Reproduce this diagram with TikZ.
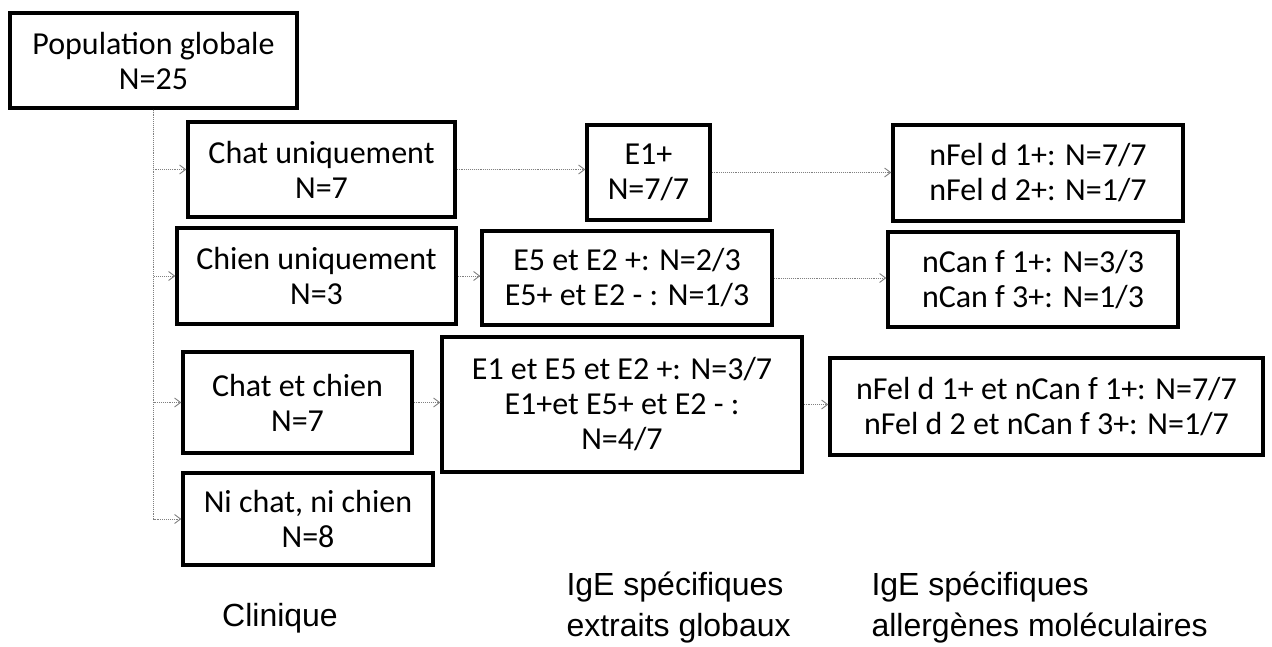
\documentclass[tikz,border=0pt]{standalone}
\usepackage{fontspec}
\setmainfont{Carlito}
\newfontfamily\labelfont{Liberation Sans}
\usetikzlibrary{arrows.meta,positioning}

\begin{document}
\begin{tikzpicture}[x=1pt, y=-1pt,
  every node/.style={align=center, font=\fontsize{32}{35}\selectfont},
  box/.style={draw, line width=3.4pt, inner sep=0pt},
  link/.style={draw=gray, densely dotted, line width=0.9pt, -{Straight Barb[length=6pt,width=9pt]}},
  caption/.style={align=left, font=\labelfont\fontsize{32}{41}\selectfont}]
  \useasboundingbox (0,0) rectangle (1272,646);
  % clinique
  \node[box, minimum width=287pt, minimum height=95pt] (pop) at (153.5,60.5) {Population globale\\N=25};
  \node[box, minimum width=267pt, minimum height=95pt] (chat) at (321.5,169.5) {Chat uniquement\\N=7};
  \node[box, minimum width=279pt, minimum height=96pt] (chien) at (316.5,276) {Chien uniquement\\N=3};
  \node[box, minimum width=229pt, minimum height=101pt] (chatchien) at (297.5,402.5) {Chat et chien\\N=7};
  \node[box, minimum width=250pt, minimum height=92pt] (ni) at (308,519) {Ni chat, ni chien\\N=8};
  % extraits globaux
  \node[box, minimum width=123pt, minimum height=95pt] (e1) at (648.5,172.5) {E1+\\N=7/7};
  \node[box, minimum width=290pt, minimum height=94pt] (e5) at (627,278) {E5 et E2 +: N=2/3\\E5+ et E2 - : N=1/3};
  \node[box, minimum width=360pt, minimum height=135pt] (e1e5) at (622,404.5) {E1 et E5 et E2 +: N=3/7\\E1+et E5+ et E2 - :\\N=4/7};
  % allergenes moleculaires
  \node[box, minimum width=290pt, minimum height=96pt] (fel) at (1038,173) {nFel d 1+: N=7/7\\nFel d 2+: N=1/7};
  \node[box, minimum width=290pt, minimum height=95pt] (can) at (1033,279.5) {nCan f 1+: N=3/3\\nCan f 3+: N=1/3};
  \node[box, minimum width=433pt, minimum height=97pt] (felcan) at (1046.5,406.5) {nFel d 1+ et nCan f 1+: N=7/7\\nFel d 2 et nCan f 3+: N=1/7};
  % titres
  \node[caption, anchor=base] (clin) at (280,626) {Clinique};
  \node[caption, anchor=base west] (ige1) at (563,636) {IgE spécifiques\\extraits globaux};
  \node[caption, anchor=base west] (ige2) at (868,636) {IgE spécifiques\\allergènes moléculaires};
  % liens
  \foreach \b in {chat,chien,chatchien,ni}
    \draw[link] (pop.south) |- (\b.west);
  \draw[link] (chat.east) -- (chat.east -| e1.west);
  \draw[link] (chien.east) -- (chien.east -| e5.west);
  \draw[link] (chatchien.east) -- (chatchien.east -| e1e5.west);
  \draw[link] (e1.east) -- (e1.east -| fel.west);
  \draw[link] (e5.east) -- (e5.east -| can.west);
  \draw[link] (e1e5.east) -- (e1e5.east -| felcan.west);
\end{tikzpicture}
\end{document}
